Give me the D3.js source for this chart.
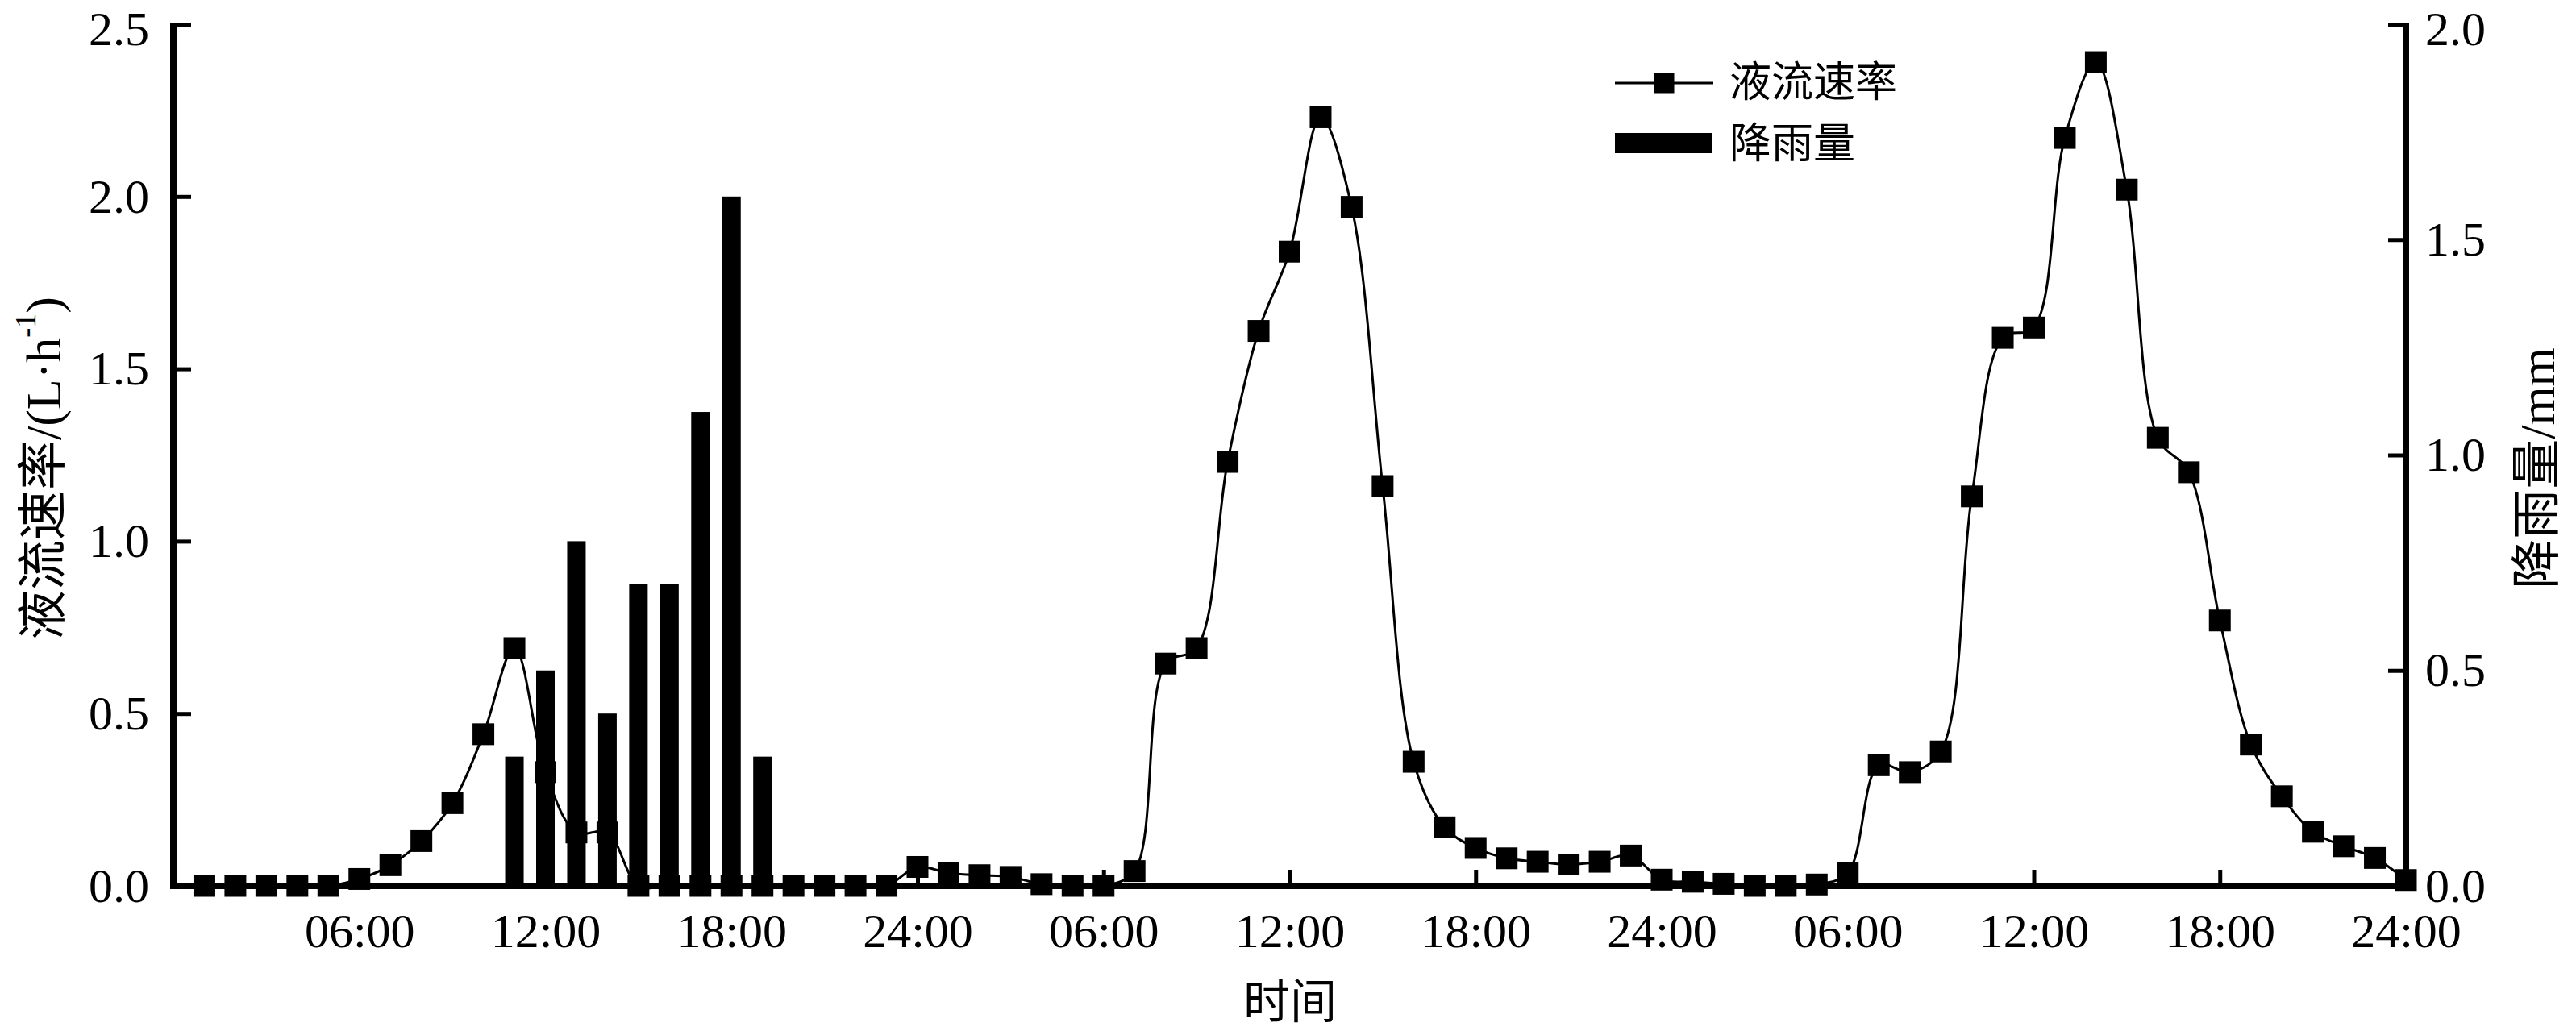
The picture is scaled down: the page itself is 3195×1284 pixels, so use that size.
<!DOCTYPE html>
<html>
<head>
<meta charset="utf-8">
<script src="https://cdn.jsdelivr.net/npm/d3@7"></script>
<style>
  html, body { margin: 0; padding: 0; background: #fff; }
  svg { display: block; }
</style>
</head>
<body>
<svg id="chart" width="3195" height="1284"></svg>
<script>
// ---------------- DATA ----------------
const hours = [1,2,3,4,5,6,7,8,9,10,11,12,13,14,15,16,17,18,19,20,21,22,23,24,
  25,26,27,28,29,30,31,32,33,34,35,36,37,38,39,40,41,42,43,44,45,46,47,48,
  49,50,51,52,53,54,55,56,57,58,59,60,61,62,63,64,65,66,67,68,69,70,71,72];

// 液流速率 (L·h-1)
const flowRate = [0,0,0,0,0,0.02,0.06,0.13,0.24,0.44,0.69,0.33,0.155,0.155,0,0,0,0,0,0,0,0,0,0.055,
  0.037,0.031,0.026,0.005,0,0,0.043,0.645,0.69,1.23,1.61,1.84,2.23,1.97,1.16,0.36,0.17,0.11,0.08,0.07,0.062,0.07,0.088,0.018,
  0.012,0.006,0,0,0.004,0.037,0.35,0.33,0.39,1.13,1.59,1.62,2.17,2.39,2.02,1.30,1.20,0.77,0.41,0.26,0.157,0.115,0.081,0.017];

// 降雨量 (mm)
const rainfall = [0,0,0,0,0,0,0,0,0,0,0.3,0.5,0.8,0.4,0.7,0.7,1.1,1.6,0.3,0,0,0,0,0,
  0,0,0,0,0,0,0,0,0,0,0,0,0,0,0,0,0,0,0,0,0,0,0,0,
  0,0,0,0,0,0,0,0,0,0,0,0,0,0,0,0,0,0,0,0,0,0,0,0];

const xTickHours = [6,12,18,24,30,36,42,48,54,60,66,72];
const xTickLabels = ["06:00","12:00","18:00","24:00","06:00","12:00","18:00","24:00","06:00","12:00","18:00","24:00"];
const yLeftTicks = [0,0.5,1.0,1.5,2.0,2.5];
const yRightTicks = [0,0.5,1.0,1.5,2.0];
const seriesNames = ["液流速率","降雨量"];

// ---------------- LAYOUT ----------------
const L = 215, R = 2984, T = 30, B = 1099;
const serif = "'Liberation Serif','Times New Roman','Noto Sans CJK SC',serif";

const svg = d3.select("#chart");
svg.append("rect").attr("width",3195).attr("height",1284).attr("fill","#fff");

const x = d3.scaleLinear().domain([0,72]).range([L,R]);
const yL = d3.scaleLinear().domain([0,2.5]).range([B,T]);
const yR = d3.scaleLinear().domain([0,2.0]).range([B,T]);

// bars
const barW = 23;
svg.append("g").selectAll("rect")
  .data(hours.map((h,i)=>({h, v: rainfall[i]})).filter(d=>d.v>0))
  .join("rect")
  .attr("x", d=>x(d.h)-barW/2)
  .attr("y", d=>yR(d.v))
  .attr("width", barW)
  .attr("height", d=>yR(0)-yR(d.v))
  .attr("fill","#000");

// line
const pts = hours.map((h,i)=>({h, v: flowRate[i]}));
const line = d3.line().x(d=>x(d.h)).y(d=>yL(d.v)).curve(d3.curveCatmullRom.alpha(0.5));
svg.append("path").datum(pts).attr("d", line)
  .attr("fill","none").attr("stroke","#000").attr("stroke-width",3);

const ms = 27;
svg.append("g").selectAll("rect").data(pts).join("rect")
  .attr("x", d=>x(d.h)-ms/2).attr("y", d=>yL(d.v)-ms/2)
  .attr("width", ms).attr("height", ms).attr("fill","#000");

// axes
function styleAxis(g){
  g.select(".domain").remove();
  g.selectAll(".tick line").attr("stroke","#000").attr("stroke-width",5);
  g.selectAll(".tick text").attr("fill","#000");
  g.attr("font-family", serif).attr("font-size", 60);
}

svg.append("g").attr("transform",`translate(0,${B})`)
  .call(d3.axisBottom(x).tickValues(xTickHours).tickFormat((d,i)=>xTickLabels[i])
    .tickSize(-20).tickPadding(33))
  .call(styleAxis);

const gL = svg.append("g").attr("transform",`translate(${L},0)`)
  .call(d3.axisLeft(yL).tickValues(yLeftTicks).tickFormat(d3.format(".1f"))
    .tickSize(-22).tickPadding(30))
  .call(styleAxis);
gL.selectAll(".tick text").filter(d=>d===2.5).attr("dy","0.42em");

const gR = svg.append("g").attr("transform",`translate(${R},0)`)
  .call(d3.axisRight(yR).tickValues(yRightTicks).tickFormat(d3.format(".1f"))
    .tickSize(-22).tickPadding(24))
  .call(styleAxis);
gR.selectAll(".tick text").filter(d=>d===2.0).attr("dy","0.42em");

// axis lines
svg.append("line").attr("x1",L).attr("x2",L).attr("y1",T-2).attr("y2",B+4)
  .attr("stroke","#000").attr("stroke-width",8);
svg.append("line").attr("x1",R).attr("x2",R).attr("y1",T-2).attr("y2",B+4)
  .attr("stroke","#000").attr("stroke-width",8);
svg.append("line").attr("x1",L-4).attr("x2",R+4).attr("y1",B).attr("y2",B)
  .attr("stroke","#000").attr("stroke-width",8);

// titles
const lt = svg.append("text")
  .attr("transform","translate(54,581) rotate(-90)")
  .attr("text-anchor","middle").attr("dominant-baseline","central")
  .attr("font-family",serif).attr("font-size",62).attr("fill","#000");
lt.append("tspan").text("液流速率/(L·h");
lt.append("tspan").attr("font-size",36).attr("dy",-22).text("-1");
lt.append("tspan").attr("dy",22).text(")");

svg.append("text")
  .attr("transform","translate(3147,581) rotate(-90)")
  .attr("text-anchor","middle").attr("dominant-baseline","central")
  .attr("font-family",serif).attr("font-size",62).attr("fill","#000")
  .text("降雨量/mm");

svg.append("text").attr("x",1600).attr("y",1243)
  .attr("text-anchor","middle").attr("dominant-baseline","central")
  .attr("font-family",serif).attr("font-size",58).attr("fill","#000")
  .text("时间");

// legend
const lg = svg.append("g");
lg.append("line").attr("x1",2003).attr("x2",2125).attr("y1",103).attr("y2",103)
  .attr("stroke","#000").attr("stroke-width",3);
lg.append("rect").attr("x",2064-12.5).attr("y",103-12.5).attr("width",25).attr("height",25).attr("fill","#000");
lg.append("text").attr("x",2145).attr("y",102).attr("dominant-baseline","central")
  .attr("font-family",serif).attr("font-size",52).attr("fill","#000").text(seriesNames[0]);
lg.append("rect").attr("x",2003).attr("y",165).attr("width",120).attr("height",25).attr("fill","#000");
lg.append("text").attr("x",2145).attr("y",178).attr("dominant-baseline","central")
  .attr("font-family",serif).attr("font-size",52).attr("fill","#000").text(seriesNames[1]);
</script>
</body>
</html>
